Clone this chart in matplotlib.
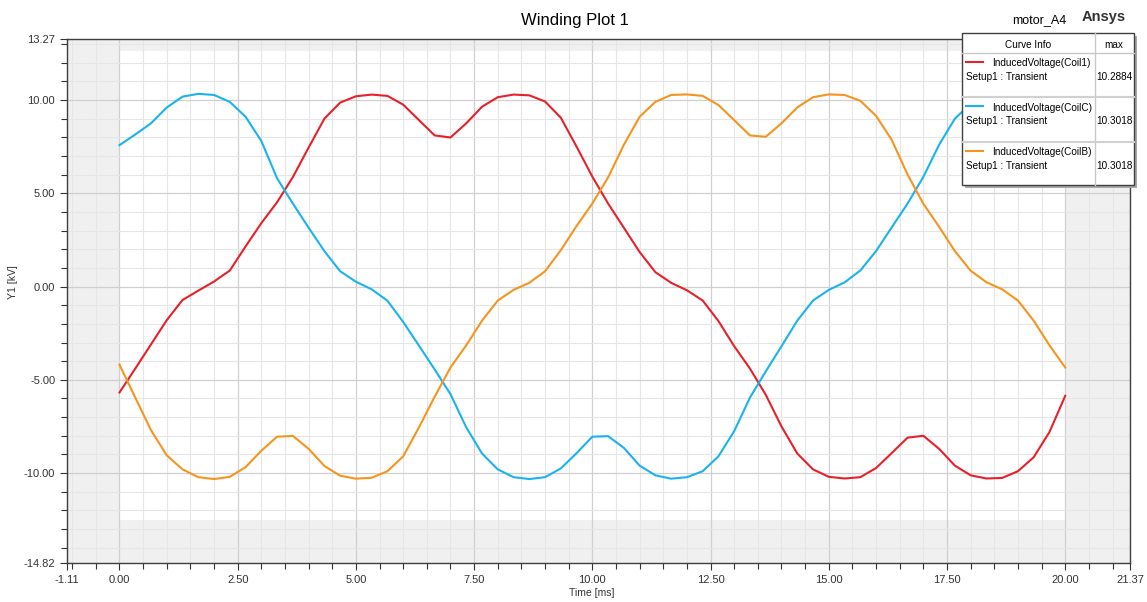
import numpy as np
import matplotlib.pyplot as plt
from matplotlib.patches import Rectangle
from matplotlib.ticker import FixedLocator, MultipleLocator

plt.rcParams['font.family'] = ['Liberation Sans', 'DejaVu Sans']

# sampled every 1/3 ms
time_ms = np.linspace(0, 20, 61)

coil1 = [-5.68, -4.4, -3.1, -1.8, -0.72, -0.22, 0.27, 0.86, 2.15, 3.4, 4.52,
         5.87, 7.45, 9.0, 9.86, 10.2, 10.29, 10.22, 9.75, 8.92, 8.1,
         7.99, 8.75, 9.64, 10.15, 10.29, 10.25, 9.92, 9.05, 7.5, 5.89,
         4.45, 3.15, 1.85, 0.77, 0.2, -0.2, -0.75, -1.85, -3.2, -4.4,
         -5.8, -7.5, -8.95, -9.8, -10.2, -10.29, -10.22, -9.73, -8.92, -8.1,
         -8.0, -8.7, -9.6, -10.12, -10.29, -10.26, -9.9, -9.15, -7.8, -5.86]

coilC = [7.58, 8.15, 8.75, 9.6, 10.18, 10.33, 10.27, 9.9, 9.1, 7.8, 5.8,
         4.45, 3.15, 1.9, 0.82, 0.26, -0.15, -0.76, -1.9, -3.17, -4.45,
         -5.77, -7.55, -8.95, -9.8, -10.22, -10.32, -10.22, -9.75, -8.93, -8.05,
         -8.02, -8.65, -9.6, -10.12, -10.3, -10.22, -9.9, -9.1, -7.75, -5.95,
         -4.55, -3.2, -1.83, -0.75, -0.18, 0.22, 0.86, 1.9, 3.18, 4.45,
         5.88, 7.6, 9.0, 9.8, 10.2, 10.3, 10.22, 9.75, 8.9, 8.05]

coilB = [-4.19, -5.95, -7.7, -9.05, -9.8, -10.22, -10.32, -10.2, -9.68, -8.8, -8.05,
         -8.01, -8.7, -9.62, -10.14, -10.3, -10.25, -9.9, -9.1, -7.55, -5.9,
         -4.34, -3.15, -1.83, -0.75, -0.18, 0.2, 0.82, 1.95, 3.25, 4.45,
         5.85, 7.6, 9.1, 9.9, 10.27, 10.3, 10.22, 9.73, 8.92, 8.1,
         8.03, 8.75, 9.6, 10.15, 10.3, 10.27, 9.96, 9.15, 7.85, 6.0,
         4.44, 3.2, 1.9, 0.85, 0.23, -0.15, -0.75, -1.83, -3.15, -4.34]

curve_names = ['InducedVoltage(Coil1)', 'InducedVoltage(CoilC)', 'InducedVoltage(CoilB)']
curve_max = ['10.2884', '10.3018', '10.3018']
curve_colors = ['#e8202a', '#1ab3ef', '#f7941e']

x_ticks = [-1.11, 0, 2.5, 5, 7.5, 10, 12.5, 15, 17.5, 20, 21.37]
y_ticks = [-14.82, -10, -5, 0, 5, 10, 13.27]

W, H = 1147, 602
fig = plt.figure(figsize=(W / 100, H / 100), dpi=100)
ax = fig.add_axes([67 / W, 1 - 563 / H, (1130 - 67) / W, (563 - 39) / H])
ax.set_facecolor('#f0f0f0')
ax.set_xlim(x_ticks[0], x_ticks[-1])
ax.set_ylim(y_ticks[0], y_ticks[-1])

# white data region, gray margins around it
ax.add_patch(Rectangle((0, -12.54), 20, 25.14, facecolor='white', edgecolor='none', zorder=0))

ax.xaxis.set_major_locator(FixedLocator(x_ticks))
ax.xaxis.set_minor_locator(MultipleLocator(0.5))
ax.yaxis.set_major_locator(FixedLocator(y_ticks))
ax.yaxis.set_minor_locator(MultipleLocator(1))
ax.set_xticklabels([f'{v:.2f}' for v in x_ticks])
ax.set_yticklabels([f'{v:.2f}' for v in y_ticks])
ax.set_axisbelow(True)
ax.grid(which='major', color='#d0d0d0', lw=0.9)
ax.grid(which='minor', color='#e6e6e6', lw=0.8)

for sp in ax.spines.values():
    sp.set_color('#404040')
    sp.set_linewidth(1)
ax.tick_params(which='major', direction='out', length=5, width=0.8, colors='#333333', labelsize=8)
ax.tick_params(which='minor', direction='out', length=4, width=0.8, colors='#333333')

for y, c in zip([coil1, coilC, coilB], curve_colors):
    ax.plot(time_ms, y, color=c, lw=1.5, zorder=3)

ax.set_xlabel('Time [ms]', fontsize=7.5, color='#333333')
ax.set_ylabel('Y1 [kV]', fontsize=7.5, color='#333333')
ax.xaxis.set_label_coords((592 - 67) / (1130 - 67), -(588 - 563) / (563 - 39))
ax.yaxis.set_label_coords(-(67 - 18) / (1130 - 67), (563 - 282) / (563 - 39))

fig.text(575 / W, 1 - 20 / H, 'Winding Plot 1', ha='center', va='center', fontsize=12)
fig.text(1039 / W, 1 - 20 / H, 'motor_A4', ha='center', va='center', fontsize=9)
fig.text(1104 / W, 1 - 17 / H, 'Ansys', ha='center', va='center', fontsize=10.5, fontweight='bold', color='#333333')

# curve info box, drawn in pixel coordinates
lax = fig.add_axes([0, 0, 1, 1], zorder=5)
lax.set_xlim(0, W)
lax.set_ylim(H, 0)
lax.axis('off')
bx, by, bw, bh = 962, 33, 172, 152
lax.add_patch(Rectangle((bx + 3, by + 3), bw, bh, facecolor='#a8a8a8', edgecolor='none'))
lax.add_patch(Rectangle((bx, by), bw, bh, facecolor='white', edgecolor='#404040', lw=1))
lax.plot([bx, bx + bw], [52.7, 52.7], color='#c8c8c8', lw=1)
lax.plot([1095, 1095], [by, by + bh], color='#c8c8c8', lw=1)
lax.text(1028, 45.5, 'Curve Info', ha='center', va='center', fontsize=7.2)
lax.text(1114, 45.5, 'max', ha='center', va='center', fontsize=7.2)
for i, (name, mx, c) in enumerate(zip(curve_names, curve_max, curve_colors)):
    base = 52.7 + i * 44.5
    if i > 0:
        lax.plot([bx, bx + bw], [base, base], color='#d0d0d0', lw=1.5)
    lax.plot([966, 983], [base + 9, base + 9], color=c, lw=1.5)
    lax.text(992, base + 10.5, name, ha='left', va='center', fontsize=7.2)
    lax.text(966, base + 24, 'Setup1 : Transient', ha='left', va='center', fontsize=7.2)
    lax.text(1114, base + 24, mx, ha='center', va='center', fontsize=7.2)

fig.savefig('out.png', dpi=100)
